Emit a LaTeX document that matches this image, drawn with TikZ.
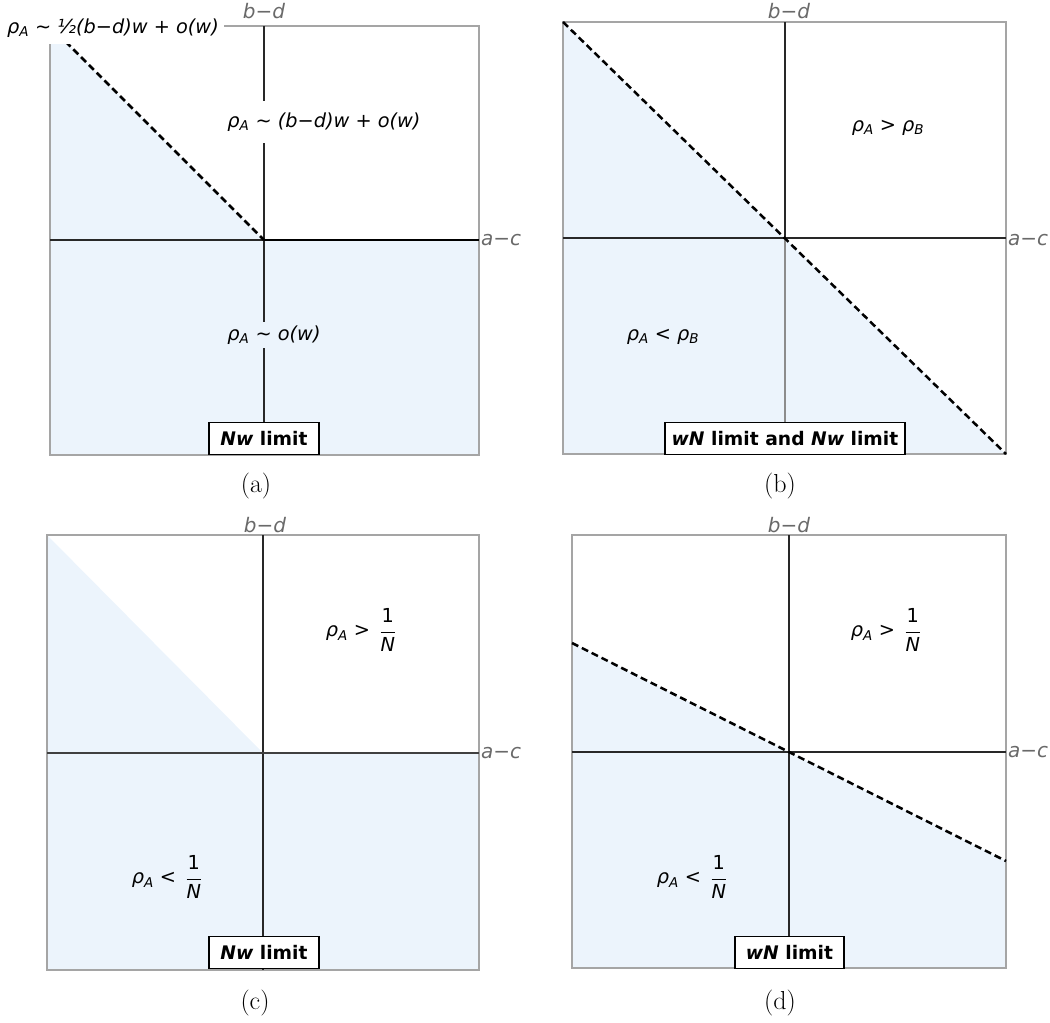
\documentclass[tikz,border=0pt]{standalone}
\usepackage{fontspec}
\newfontfamily\dv{DejaVu Sans}
\definecolor{regionblue}{RGB}{236,244,252}
\definecolor{boxgray}{RGB}{165,165,165}
\definecolor{axisdark}{RGB}{40,40,40}
\definecolor{axislabel}{RGB}{105,105,105}
\newcommand\oneN{$\displaystyle\frac{\mbox{\upshape 1}}{\mbox{\itshape N}}$}
\newcommand\rA{ρ\textsubscript{A}}
\newcommand\rB{ρ\textsubscript{B}}
\tikzset{
  panelbox/.style={draw=boxgray,line width=1.3pt},
  axisline/.style={draw=axisdark,line width=1.3pt},
  region/.style={fill=regionblue,draw=none},
  divider/.style={draw=black,line width=2.5pt,dash pattern=on 7pt off 4pt},
  lbl/.style={font=\dv\itshape\fontsize{19.3}{23}\selectfont,inner sep=0pt},
  axlbl/.style={font=\dv\itshape\fontsize{20}{24}\selectfont,text=axislabel,inner sep=0pt},
  limitbox/.style={draw=black,fill=white,line width=1.2pt,font=\dv\bfseries\fontsize{18.7}{22}\selectfont,minimum height=32pt,inner sep=0pt,anchor=south},
  capt/.style={font=\fontsize{26}{30}\selectfont,inner sep=0pt}
}
\begin{document}
\begin{tikzpicture}[x=1pt,y=-1pt]
\useasboundingbox (0,0) rectangle (1050,1023);
% ---------------- panel (a)
\coordinate (aTL) at (50,26); \coordinate (aBR) at (479,455);
\coordinate (aO) at (264,240);
\coordinate (aT) at (264,26); \coordinate (aB) at (264,455);
\coordinate (aL) at (50,240); \coordinate (aR) at (479,240);
\fill[region] (aTL) -- (aO) -- (aR) -- (aBR) -- (50,455) -- cycle;
\draw[panelbox] (aTL) rectangle (aBR);
\draw[axisline] (aT) -- (aB);
\draw[axisline] (aL) -- (aO);
\draw[draw=black,line width=2.6pt] (aO) -- (aR);
\draw[divider] (aTL) -- (aO);
\node[lbl,fill=white,inner xsep=5pt,minimum height=31pt,anchor=east] (aHalf) at (224,28) {\rA{} ∼ ½(b−d)w + o(w)};
\node[lbl,fill=white,inner xsep=3pt,minimum height=42pt] (aUp) at (324,122) {\rA{} ∼ (b−d)w + o(w)};
\node[lbl,fill=regionblue,inner xsep=3pt,minimum height=26pt] (aLow) at (274,335) {\rA{} ∼ o(w)};
\node[limitbox,minimum width=110pt] (aLim) at (264,455) {\textit{Nw} limit};
\node[axlbl] (aY) at (264,11) {b−d};
\node[axlbl,anchor=west] (aX) at (481,240) {a−c};
\node[capt] (aCap) at (256,486) {(a)};
% ---------------- panel (b)
\coordinate (bTL) at (563,22); \coordinate (bBR) at (1006,454);
\coordinate (bO) at (785,238);
\coordinate (bT) at (785,22); \coordinate (bB) at (785,454);
\coordinate (bL) at (563,238); \coordinate (bR) at (1006,238);
\fill[region] (bTL) -- (bBR) -- (563,454) -- cycle;
\draw[panelbox] (bTL) rectangle (bBR);
\draw[axisline] (bT) -- (bO);
\draw[draw=gray!90,line width=1.3pt] (bO) -- (bB);
\draw[axisline] (bL) -- (bR);
\draw[divider] (bTL) -- (bBR);
\node[lbl] (bUp) at (888,128) {\rA{} > \rB};
\node[lbl] (bLow) at (663,337) {\rA{} < \rB};
\node[limitbox,minimum width=240pt] (bLim) at (785,455) {\textit{wN} limit and \textit{Nw} limit};
\node[axlbl] (bY) at (789,11) {b−d};
\node[axlbl,anchor=west] (bX) at (1008,240) {a−c};
\node[capt] (bCap) at (780,486) {(b)};
% ---------------- panel (c)
\coordinate (cTL) at (47,535); \coordinate (cBR) at (479,970);
\coordinate (cO) at (263,753);
\coordinate (cT) at (263,535); \coordinate (cB) at (263,970);
\coordinate (cL) at (47,753); \coordinate (cR) at (479,753);
\fill[region] (cTL) -- (cO) -- (cL) -- cycle;
\fill[region] (cL) -- (cR) -- (cBR) -- (47,970) -- cycle;
\draw[panelbox] (cTL) rectangle (cBR);
\draw[axisline] (cT) -- (cB);
\draw[draw=black!75,line width=2.5pt] (cL) -- (cR);
\node[lbl] (cUp) at (361,630) {\rA{} >\, \oneN};
\node[lbl] (cLow) at (167,877) {\rA{} <\, \oneN};
\node[limitbox,minimum width=110pt] (cLim) at (264,969) {\textit{Nw} limit};
\node[axlbl] (cY) at (265,525) {b−d};
\node[axlbl,anchor=west] (cX) at (481,753) {a−c};
\node[capt] (cCap) at (255,1003) {(c)};
% ---------------- panel (d)
\coordinate (dTL) at (572,535); \coordinate (dBR) at (1006,968);
\coordinate (dO) at (789,752);
\coordinate (dT) at (789,535); \coordinate (dB) at (789,968);
\coordinate (dL) at (572,752); \coordinate (dR) at (1006,752);
\coordinate (dDL) at (572,643); \coordinate (dDR) at (1006,861);
\fill[region] (dDL) -- (dDR) -- (dBR) -- (572,968) -- cycle;
\draw[panelbox] (dTL) rectangle (dBR);
\draw[axisline] (dT) -- (dB);
\draw[axisline] (dL) -- (dR);
\draw[divider] (dDL) -- (dDR);
\node[lbl] (dUp) at (886,630) {\rA{} >\, \oneN};
\node[lbl] (dLow) at (692,877) {\rA{} <\, \oneN};
\node[limitbox,minimum width=109pt] (dLim) at (789.5,969) {\textit{wN} limit};
\node[axlbl] (dY) at (789,525) {b−d};
\node[axlbl,anchor=west] (dX) at (1008,752) {a−c};
\node[capt] (dCap) at (780,1003) {(d)};
\end{tikzpicture}
\end{document}
